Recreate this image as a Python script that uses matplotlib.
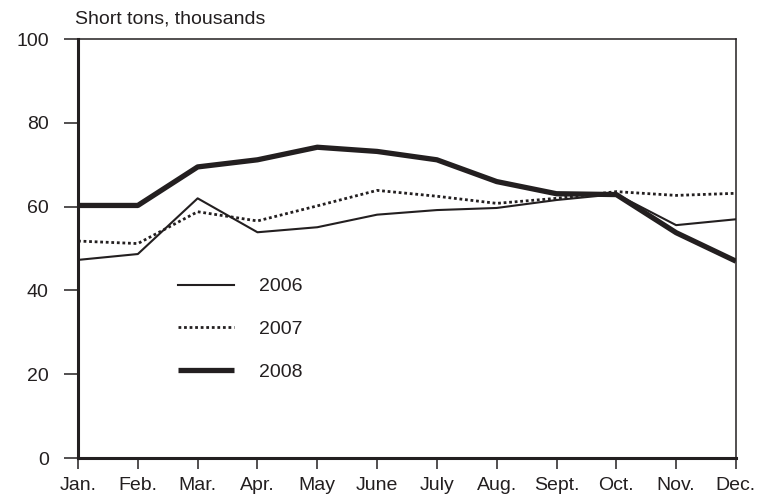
import matplotlib

matplotlib.use("Agg")

import matplotlib.pyplot as plt

months = ["Jan.", "Feb.", "Mar.", "Apr.", "May", "June", "July", "Aug.", "Sept.", "Oct.", "Nov.", "Dec."]
tons_2006 = [47.3, 48.7, 62.0, 53.9, 55.1, 58.1, 59.2, 59.7, 61.6, 63.0, 55.6, 57.0]
tons_2007 = [51.8, 51.2, 58.8, 56.6, 60.2, 63.9, 62.5, 60.8, 62.0, 63.6, 62.7, 63.2]
tons_2008 = [60.3, 60.3, 69.5, 71.2, 74.2, 73.2, 71.2, 66.0, 63.1, 62.9, 53.8, 47.0]
y_ticks = [0, 20, 40, 60, 80, 100]

ink = "#231f20"
plt.rcParams["font.family"] = ["Liberation Sans", "DejaVu Sans"]

fig = plt.figure(figsize=(7.65, 5.01), dpi=100)
ax = fig.add_axes([0.102, 0.0858, 0.860, 0.836])

x = range(len(months))
ax.plot(x, tons_2006, color=ink, lw=1.5, label="2006")
ax.plot(x, tons_2007, color=ink, lw=2.0, linestyle=(0, (1, 1)), label="2007")
ax.plot(x, tons_2008, color=ink, lw=3.8, label="2008", solid_capstyle="butt")

ax.set_xlim(0, len(months) - 1)
ax.set_ylim(0, 100)
ax.set_xticks(list(x))
ax.set_xticklabels(months)
ax.set_yticks(y_ticks)

for side in ["left", "bottom"]:
    ax.spines[side].set_linewidth(2.2)
for side in ["top", "right"]:
    ax.spines[side].set_linewidth(1.1)
for sp in ax.spines.values():
    sp.set_color(ink)

ax.tick_params(axis="both", direction="out", width=1.1, colors=ink, labelsize=14)
ax.tick_params(axis="x", length=8, pad=6)
ax.tick_params(axis="y", length=10, pad=11)

fig.text(0.098, 0.945, "Short tons, thousands", fontsize=14, color=ink, ha="left", va="bottom")

leg = ax.legend(loc="upper left", bbox_to_anchor=(168 / 765, 1 - 268 / 501), bbox_transform=fig.transFigure,
                frameon=False, fontsize=14, handlelength=2.9, handletextpad=1.3, labelspacing=1.3, borderpad=0)
for t in leg.get_texts():
    t.set_color(ink)

fig.savefig("out.png", dpi=100)
